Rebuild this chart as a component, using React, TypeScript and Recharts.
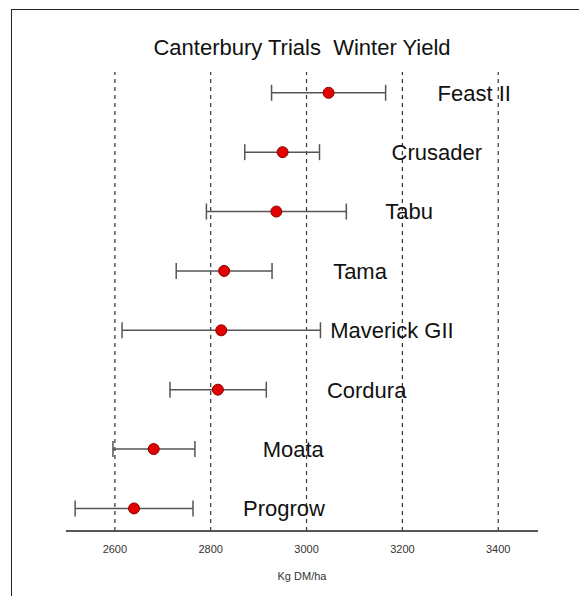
import {ErrorBar, ReferenceLine, Scatter, ScatterChart, XAxis, YAxis} from "recharts";

const varieties = ["Progrow", "Moata", "Cordura", "Maverick GII", "Tama", "Tabu", "Crusader", "Feast II"];
const means = [2640, 2681, 2815, 2822, 2828, 2937, 2950, 3046];
const lows = [2517, 2596, 2715, 2615, 2728, 2791, 2871, 2927];
const highs = [2763, 2767, 2916, 3029, 2928, 3083, 3027, 3165];
const xTicks = [2600, 2800, 3000, 3200, 3400];

const data = varieties.map((name, i) => ({
	name,
	row: i,
	mean: means[i],
	err: [means[i] - lows[i], highs[i] - means[i]],
}));

const font = "'Liberation Sans', Arial, Helvetica, sans-serif";

type ShapeProps = {cx?: number; cy?: number; payload?: {name: string}};

function PointWithLabel({cx = 0, cy = 0, payload}: ShapeProps) {
	return (
		<g>
			<circle cx={cx} cy={cy} r={5.5} fill="#e30000" stroke="#8a0000" strokeWidth={1}/>
			<text x={cx + 109} y={cy} dy="0.36em" fontSize={22} fill="#111" fontFamily={font}>
				{payload?.name}
			</text>
		</g>
	);
}

export default function App() {
	return (
		<div style={{position: "absolute", left: 0, top: 0, width: 579, height: 596, background: "#fff", fontFamily: font}}>
			<div style={{position: "absolute", left: 11, top: 9, right: 0, bottom: 0, borderTop: "1px solid #222", borderLeft: "1px solid #222"}}/>
			<div style={{position: "absolute", left: 66, width: 472, top: 35, textAlign: "center", fontSize: 22, color: "#111"}}>
				Canterbury Trials&nbsp; Winter Yield
			</div>
			<div style={{position: "absolute", left: 0, top: 0}}>
				<ScatterChart width={579} height={596} margin={{top: 72, right: 41, bottom: 15, left: 66}}>
					<XAxis
						type="number"
						dataKey="mean"
						domain={[2498, 3483]}
						ticks={xTicks}
						allowDataOverflow
						height={50}
						tickLine={false}
						tickMargin={8}
						axisLine={{stroke: "#555", strokeWidth: 1.8}}
						tick={{fontSize: 11, fill: "#333", fontFamily: font}}
						label={{value: "Kg DM/ha", position: "insideBottom", offset: 1, fontSize: 11, fill: "#333", fontFamily: font}}
					/>
					<YAxis type="number" dataKey="row" domain={[-0.38, 7.35]} hide allowDataOverflow/>
					{xTicks.map((t) => (
						<ReferenceLine key={t} x={t} stroke="#333" strokeDasharray="4 4" strokeWidth={1.2}/>
					))}
					<Scatter data={data} isAnimationActive={false} shape={<PointWithLabel/>}>
						<ErrorBar dataKey="err" direction="x" width={8} stroke="#555" strokeWidth={1.5}/>
					</Scatter>
				</ScatterChart>
			</div>
		</div>
	);
}
